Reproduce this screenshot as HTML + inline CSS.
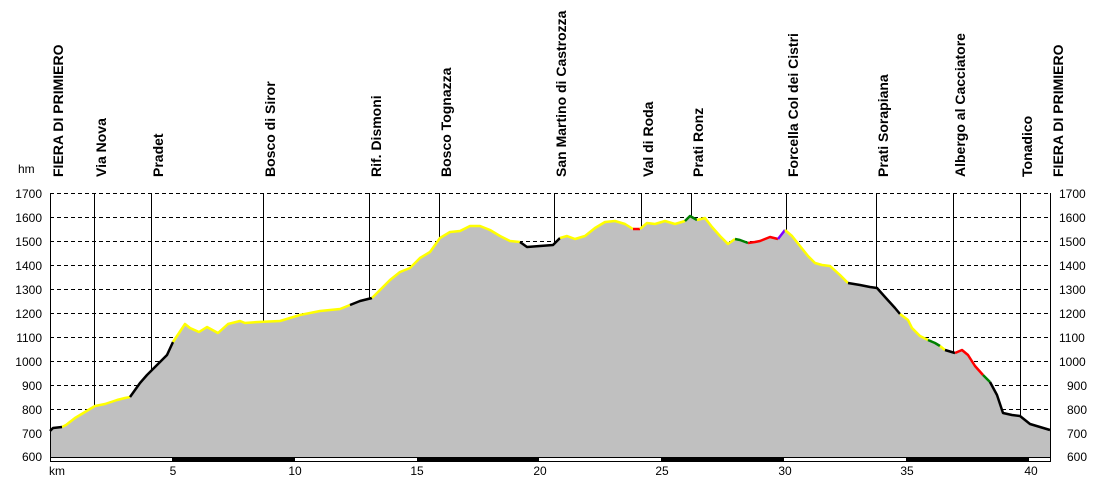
<!DOCTYPE html><html><head><style>body{margin:0;background:#fff}svg{display:block}</style></head><body>
<svg width="1100" height="482" xmlns="http://www.w3.org/2000/svg" font-family="Liberation Sans, sans-serif">
<rect width="1100" height="482" fill="#fff"/>
<g id="grid" stroke="#000" stroke-dasharray="4,3" stroke-width="1">
<line x1="50" x2="1050" y1="193.5" y2="193.5"/><line x1="50" x2="1050" y1="217.5" y2="217.5"/><line x1="50" x2="1050" y1="241.5" y2="241.5"/><line x1="50" x2="1050" y1="265.5" y2="265.5"/><line x1="50" x2="1050" y1="289.5" y2="289.5"/><line x1="50" x2="1050" y1="313.5" y2="313.5"/><line x1="50" x2="1050" y1="337.5" y2="337.5"/><line x1="50" x2="1050" y1="361.5" y2="361.5"/><line x1="50" x2="1050" y1="385.5" y2="385.5"/><line x1="50" x2="1050" y1="409.5" y2="409.5"/><line x1="50" x2="1050" y1="433.5" y2="433.5"/>
</g>
<g stroke="#000" stroke-width="1">
<line x1="94.5" x2="94.5" y1="193" y2="410"/><line x1="151.5" x2="151.5" y1="193" y2="370"/><line x1="263.5" x2="263.5" y1="193" y2="322"/><line x1="369.5" x2="369.5" y1="193" y2="299"/><line x1="439.5" x2="439.5" y1="193" y2="240"/><line x1="554.5" x2="554.5" y1="193" y2="242"/><line x1="641.5" x2="641.5" y1="193" y2="229"/><line x1="691.5" x2="691.5" y1="193" y2="218"/><line x1="786.5" x2="786.5" y1="193" y2="232"/><line x1="876.5" x2="876.5" y1="193" y2="289"/><line x1="953.5" x2="953.5" y1="193" y2="352"/><line x1="1020.5" x2="1020.5" y1="193" y2="417"/>
</g>
<polygon id="fill" fill="#c0c0c0" points="50,457 50,431 53,428 62,427 66,425 75,418 80,415 90,409 95,406 105,404 117,400 125,398 130,397 140,383 147,375 157,365 167,355 173,342 185,324 190,328 199,332 207,327 218,333 228,324 240,321 245,323 258,322 280,321 290,318 300,315 320,311 340,309 350,305 360,301 372,298 380,290 390,280 400,272 410,268 420,258 430,252 440,238 450,232 460,231 470,226 480,226 490,230 500,236 510,241 520,242 527,247 540,246 553,245 560,238 567,236 575,239 585,236 595,228 605,222 615,221 625,224 633,229 640,229 647,223 655,224 665,221 675,224 685,221 690,216 697,220 705,218 712,227 720,236 728,244 735,239 740,240 748,243 755,242 760,241 770,237 778,239 785,230 792,236 800,246 808,256 815,263 822,265 830,266 840,275 848,283 860,285 870,287 877,288 885,297 895,308 900,314 908,320 912,328 920,336 928,340 935,343 945,350 955,353 962,350 968,355 975,366 983,375 990,382 997,395 1003,413 1012,415 1020,416 1030,424 1040,427 1050,430 1050,457"/>
<g fill="none" stroke-width="2.5" stroke-linejoin="round">
<polyline stroke="#ffff00" points="62,427 66,425 75,418 80,415 90,409 95,406 105,404 117,400 125,398 130,397"/>
<polyline stroke="#000" points="50,431 53,428 62,427"/>
<polyline stroke="#000" points="130,397 140,383 147,375 157,365 167,355 173,342"/>
<polyline stroke="#ffff00" points="173,342 185,324 190,328 199,332 207,327 218,333 228,324 240,321 245,323 258,322 280,321 290,318 300,315 320,311 340,309 350,305"/>
<polyline stroke="#000" points="350,305 360,301 372,298"/>
<polyline stroke="#ffff00" points="372,298 380,290 390,280 400,272 410,268 420,258 430,252 440,238 450,232 460,231 470,226 480,226 490,230 500,236 510,241 520,242"/>
<polyline stroke="#000" points="520,242 527,247 540,246 553,245 560,238"/>
<polyline stroke="#ffff00" points="560,238 567,236 575,239 585,236 595,228 605,222 615,221 625,224 633,229"/>
<polyline stroke="#ff0000" points="633,229 640,229"/>
<polyline stroke="#ffff00" points="640,229 647,223 655,224 665,221 675,224 685,221"/>
<polyline stroke="#008000" points="685,221 690,216 697,220"/>
<polyline stroke="#ffff00" points="697,220 705,218 712,227 720,236 728,244 735,239"/>
<polyline stroke="#008000" points="735,239 740,240 748,243"/>
<polyline stroke="#ff0000" points="748,243 755,242 760,241 770,237 778,239"/>
<polyline stroke="#8000ff" points="778,239 785,230"/>
<polyline stroke="#ffff00" points="785,230 792,236 800,246 808,256 815,263 822,265 830,266 840,275 848,283"/>
<polyline stroke="#000" points="848,283 860,285 870,287 877,288 885,297 895,308 900,314"/>
<polyline stroke="#ffff00" points="900,314 908,320 912,328 920,336 928,340"/>
<polyline stroke="#008000" points="928,340 935,343 940,346"/>
<polyline stroke="#ffff00" points="940,346 945,350"/>
<polyline stroke="#000" points="945,350 955,353"/>
<polyline stroke="#ff0000" points="955,353 962,350 968,355 975,366 983,375"/>
<polyline stroke="#008000" points="983,375 990,382"/>
<polyline stroke="#000" points="990,382 997,395 1003,413 1012,415 1020,416 1030,424 1040,427 1050,430"/>
</g>
<line x1="50.5" x2="50.5" y1="193" y2="462" stroke="#000"/>
<line x1="1050.5" x2="1050.5" y1="193" y2="462" stroke="#000"/>
<line x1="50" x2="1051" y1="457.5" y2="457.5" stroke="#000"/>
<line x1="50" x2="1051" y1="461.5" y2="461.5" stroke="#000"/>
<g fill="#000"><rect x="172" y="457" width="123" height="5"/><rect x="417" y="457" width="122" height="5"/><rect x="661" y="457" width="123" height="5"/><rect x="906" y="457" width="123" height="5"/></g>
<g font-size="12" text-anchor="end">
<text x="42" y="198">1700</text><text x="42" y="222">1600</text><text x="42" y="246">1500</text><text x="42" y="270">1400</text><text x="42" y="294">1300</text><text x="42" y="318">1200</text><text x="42" y="342">1100</text><text x="42" y="366">1000</text><text x="42" y="390">900</text><text x="42" y="414">800</text><text x="42" y="438">700</text><text x="42" y="461">600</text>
</g>
<g font-size="12" text-anchor="start">
<text x="1059" y="198">1700</text><text x="1059" y="222">1600</text><text x="1059" y="246">1500</text><text x="1059" y="270">1400</text><text x="1059" y="294">1300</text><text x="1059" y="318">1200</text><text x="1059" y="342">1100</text><text x="1059" y="366">1000</text><text x="1067" y="390">900</text><text x="1067" y="414">800</text><text x="1067" y="438">700</text><text x="1067" y="461">600</text>
</g>
<text x="18" y="173" font-size="12">hm</text>
<g font-size="12" text-anchor="middle"><text x="57" y="475">km</text><text x="173" y="475">5</text><text x="295" y="475">10</text><text x="417" y="475">15</text><text x="540" y="475">20</text><text x="662" y="475">25</text><text x="785" y="475">30</text><text x="907" y="475">35</text><text x="1031" y="475">40</text></g>
<g font-size="14" font-weight="bold">
<text transform="translate(63,177) rotate(-90)">FIERA DI PRIMIERO</text>
<text transform="translate(106,177) rotate(-90)">Via Nova</text>
<text transform="translate(163,177) rotate(-90)">Pradet</text>
<text transform="translate(275,177) rotate(-90)">Bosco di Siror</text>
<text transform="translate(381,177) rotate(-90)">Rif. Dismoni</text>
<text transform="translate(451,177) rotate(-90)">Bosco Tognazza</text>
<text transform="translate(566,177) rotate(-90)">San Martino di Castrozza</text>
<text transform="translate(653,177) rotate(-90)">Val di Roda</text>
<text transform="translate(703,177) rotate(-90)">Prati Ronz</text>
<text transform="translate(798,177) rotate(-90)">Forcella Col dei Cistri</text>
<text transform="translate(888,177) rotate(-90)">Prati Sorapiana</text>
<text transform="translate(965,177) rotate(-90)">Albergo al Cacciatore</text>
<text transform="translate(1032,177) rotate(-90)">Tonadico</text>
<text transform="translate(1063,177) rotate(-90)">FIERA DI PRIMIERO</text>
</g>
</svg>
</body></html>
